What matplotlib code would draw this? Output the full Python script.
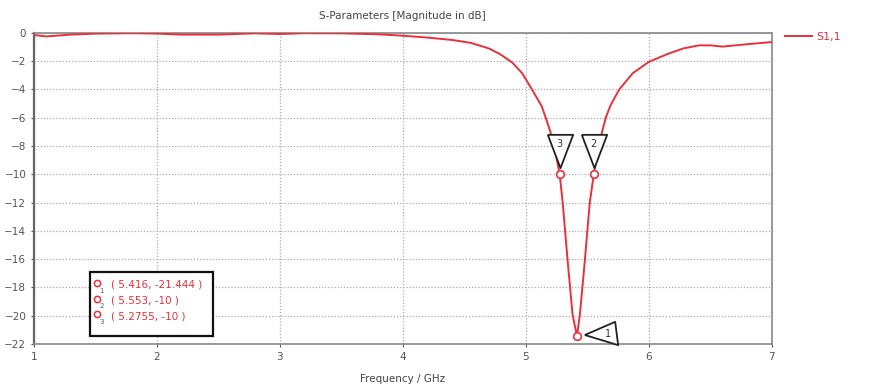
import matplotlib
matplotlib.use("Agg")
import matplotlib.pyplot as plt
import matplotlib.transforms as mtransforms

# S1,1 curve
freq = [1.0, 1.1, 1.3, 1.5, 1.8, 2.0, 2.2, 2.5, 2.8, 3.0, 3.2, 3.5, 3.8, 4.0,
        4.2, 4.4, 4.55, 4.7, 4.79, 4.89, 4.97, 5.05, 5.13, 5.17, 5.2, 5.24,
        5.2755, 5.30, 5.34, 5.38, 5.416, 5.44, 5.48, 5.52, 5.553, 5.585, 5.62,
        5.65, 5.69, 5.76, 5.87, 6.0, 6.15, 6.28, 6.41, 6.5, 6.6, 6.8, 7.0]
s11 = [-0.15, -0.25, -0.12, -0.05, -0.02, -0.05, -0.12, -0.12, -0.03, -0.08,
       -0.02, -0.03, -0.1, -0.2, -0.33, -0.5, -0.7, -1.1, -1.5, -2.1, -2.85,
       -4.0, -5.2, -6.2, -7.0, -8.4, -10.0, -12.0, -16.1, -19.9, -21.444,
       -19.9, -16.1, -12.0, -10.0, -8.4, -7.0, -6.0, -5.1, -4.0, -2.85,
       -2.05, -1.5, -1.1, -0.88, -0.88, -0.97, -0.8, -0.65]

marker_ids = ["1", "2", "3"]
marker_f = [5.416, 5.553, 5.2755]
marker_db = [-21.444, -10.0, -10.0]
marker_txt = ["( 5.416, -21.444 )", "( 5.553, -10 )", "( 5.2755, -10 )"]

red = "#e8313c"
grey = "#555555"

fig = plt.figure(figsize=(8.72, 3.87), dpi=100)
ax = fig.add_axes([0.039, 0.111, 0.846, 0.804])

ax.plot(freq, s11, color=red, lw=1.4, label="S1,1", zorder=3)
ax.plot(marker_f, marker_db, "o", ms=5.5, mfc="white", mec=red, mew=1.2, zorder=4)

# triangle flags next to the markers
down_tri = [(-0.76, 1.0), (0.76, 1.0), (0.0, -1.0), (-0.76, 1.0)]
left_tri = [(-1.0, -0.09), (0.82, 0.70), (1.0, -0.70), (-1.0, -0.09)]
for mid, f, db in zip(marker_ids, marker_f, marker_db):
    if mid == "1":
        mk, dx, dy, tx, ty = left_tri, 17.6, 2.5, 22, 1.5
    else:
        mk, dx, dy, tx, ty = down_tri, 0, 17, 0, 22
    off = mtransforms.ScaledTranslation(dx / 72, dy / 72, fig.dpi_scale_trans)
    toff = mtransforms.ScaledTranslation(tx / 72, ty / 72, fig.dpi_scale_trans)
    ax.plot([f], [db], marker=mk, ms=24, mfc="white", mec="#222222", mew=1.3,
            transform=ax.transData + off, zorder=5, clip_on=False)
    ax.text(f, db, mid, fontsize=7, color="#333333", ha="center", va="center",
            transform=ax.transData + toff, zorder=6)

ax.set_xlim(1, 7)
ax.set_ylim(-22, 0)
ax.set_xticks(range(1, 8))
ax.set_yticks(range(-22, 1, 2))
ax.grid(True, color="#aaaaaa", ls=(0, (1, 1.5)), lw=0.9)
ax.tick_params(labelsize=7.5, colors=grey, length=2)
for sp in ax.spines.values():
    sp.set_color("#888888")
    sp.set_linewidth(1.2)
ax.spines["left"].set_color("#666666")
ax.spines["left"].set_linewidth(1.6)

ax.set_title("S-Parameters [Magnitude in dB]", fontsize=7.5, color="#444444", pad=10)
ax.set_xlabel("Frequency / GHz", fontsize=7.5, color="#444444", labelpad=9)

leg = ax.legend(loc="upper left", bbox_to_anchor=(1.005, 1.035), frameon=False,
                fontsize=8, handlelength=2.4, handletextpad=0.4)
for t in leg.get_texts():
    t.set_color(red)

# marker info box
box = plt.Rectangle((0.076, 0.026), 0.167, 0.204, transform=ax.transAxes,
                    fc="white", ec="#111111", lw=1.6, zorder=6)
ax.add_patch(box)
for i, (mid, txt) in enumerate(zip(marker_ids, marker_txt)):
    yy = 0.19 - i * 0.05
    ax.plot([0.086], [yy + 0.005], "o", ms=4.5, mfc="white", mec=red, mew=1.1,
            transform=ax.transAxes, zorder=7)
    ax.text(0.089, yy - 0.018, mid, fontsize=5, color="#3366aa",
            transform=ax.transAxes, va="center", zorder=7)
    ax.text(0.104, yy, txt, fontsize=7.5, color=red, transform=ax.transAxes,
            va="center", zorder=7)

fig.savefig("out.png", dpi=100, facecolor="white")
